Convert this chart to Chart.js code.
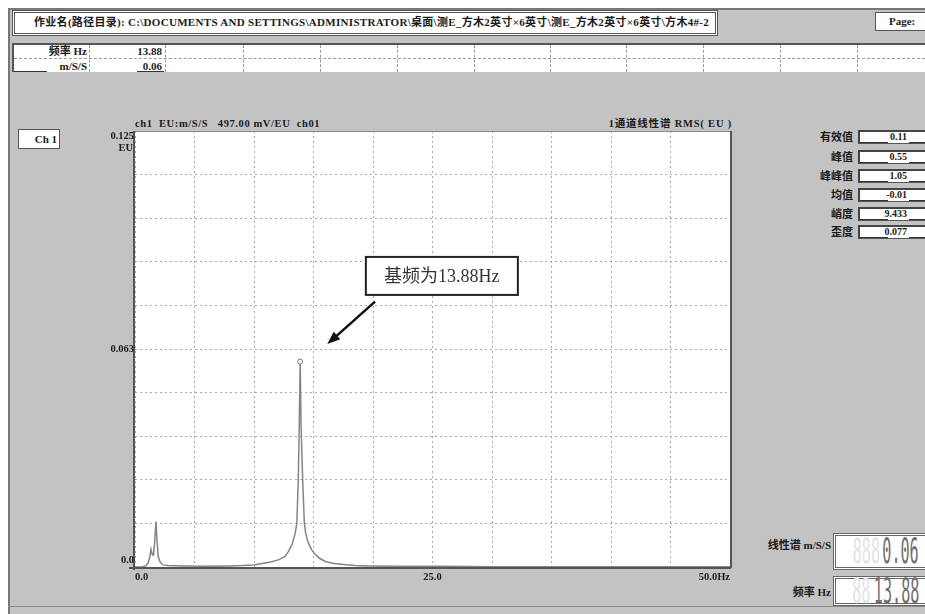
<!DOCTYPE html>
<html>
<head>
<meta charset="utf-8">
<script src="https://cdn.jsdelivr.net/npm/chart.js@4.4.1/dist/chart.umd.min.js"></script>
<style>
  html, body { margin: 0; padding: 0; background: #fff; }
  #page { position: relative; width: 925px; height: 614px; overflow: hidden; background: #fff; }
  .abs { position: absolute; box-sizing: border-box; }
  .panel { left: 8px; top: 8px; width: 930px; height: 620px; background: #c3c3c3;
    border-left: 2px solid #777; border-top: 2px solid #777; }
  .t { position: absolute; font-family: "Liberation Serif", "Noto Sans CJK SC", serif; font-weight: bold;
    font-size: 10px; line-height: 12px; color: #1b1b1b; white-space: nowrap; }
  .box { background: #fff; border: 1px solid #555; }
  .dbl { background: #fff; border: 3px double #555; }
  .vdash { width: 0; border-left: 1px dashed #9a9a9a; }
  .hdash { height: 0; border-top: 1px dashed #9a9a9a; }
  .seg { position: absolute; font-family: "DejaVu Sans Mono", monospace; font-weight: 200; font-size: 36px;
    line-height: 32px; white-space: nowrap; transform-origin: right center; transform: scaleX(0.42); }
  #wrap { position: absolute; left: 0; top: 0; width: 925px; height: 614px; }
</style>
</head>
<body>
<div id="page">
  <div class="abs panel"></div>
  <div id="chrome"></div>
  <div id="wrap"><canvas id="spec"></canvas></div>
</div>
<script>
// --- data ---
const jobTitle = '作业名(路径目录): C:\\DOCUMENTS AND SETTINGS\\ADMINISTRATOR\\桌面\\测E_方木2英寸×6英寸\\测E_方木2英寸×6英寸\\方木4#-2';
const headerLabels = ['频率 Hz', 'm/S/S'];
const headerValues = ['13.88', '0.06'];
const statLabels = ['有效值', '峰值', '峰峰值', '均值', '峭度', '歪度'];
const statValues = ['0.11', '0.55', '1.05', '-0.01', '9.433', '0.077'];
const readoutLabels = ['线性谱 m/S/S', '频率 Hz'];
const readoutValues = ['0.06', '13.88'];
const readoutGhosts = ['888', '88'];

const freqHz = [0, 0.6, 0.9, 1.1, 1.25, 1.34, 1.45, 1.55, 1.65, 1.76, 1.85, 1.95, 2.1, 2.35, 2.8, 4, 6, 8, 9, 10,
  10.8, 11.5, 12.1, 12.6, 12.9, 13.2, 13.45, 13.6, 13.72, 13.8, 13.88, 13.96, 14.09, 14.23, 14.35, 14.55, 14.85,
  15.1, 15.5, 16.0, 16.6, 17.5, 18.5, 19.5, 22, 26, 30, 35, 40, 45, 50];
const amplitude = [0, 0, 0.0003, 0.0012, 0.0030, 0.0051, 0.0036, 0.0034, 0.0070, 0.0130, 0.0075, 0.0030, 0.0015,
  0.0006, 0.0004, 0.0003, 0.0002, 0.0003, 0.0004, 0.0006, 0.0011, 0.0015, 0.0021, 0.0030, 0.0045, 0.0065, 0.0095,
  0.0126, 0.0250, 0.0400, 0.0589, 0.0400, 0.0250, 0.0126, 0.0095, 0.0070, 0.0049, 0.0038, 0.0025, 0.0016, 0.0011,
  0.0007, 0.0004, 0.0003, 0.0002, 0.0002, 0.0001, 0.0001, 0.0001, 0.0001, 0.0001];
const peakIndex = 30;

const yTickValues = [0, 0.0625, 0.125];
const yTickLabels = ['0.0', '0.063', '0.125'];
const xTickValues = [0, 25, 50];
const xTickLabels = ['0.0', '25.0', '50.0Hz'];
const plotTitleLeft = 'ch1  EU:m/S/S   497.00 mV/EU  ch01';
const plotTitleRight = '1通道线性谱 RMS( EU )';
const yUnit = 'EU';
const channelName = 'Ch 1';
const pageLabel = 'Page:';
const noteText = '基频为13.88Hz';

// --- surrounding panels (plain html) ---
const chrome = document.getElementById('chrome');
const el = (cls, css, text) => {
  const d = document.createElement('div');
  d.className = cls;
  Object.assign(d.style, css);
  if (text !== undefined) d.textContent = text;
  chrome.appendChild(d);
  return d;
};

el('abs dbl', { left: '12px', top: '10px', width: '706px', height: '26px' });
el('t', { left: '34px', top: '16px', fontSize: '11px', letterSpacing: '0.3px' }, jobTitle);
el('abs box', { left: '875px', top: '12px', width: '60px', height: '19px' });
el('t', { left: '889px', top: '15px', fontSize: '11px' }, pageLabel);

// header table
el('abs', { left: '12px', top: '43px', width: '920px', height: '29px', background: '#fff',
  borderLeft: '2px solid #555', borderTop: '2px solid #555' });
el('abs hdash', { left: '14px', top: '58px', width: '911px' });
[89, 165, 243, 320, 397, 474, 550, 626, 703, 780, 857].forEach((x) => {
  el('abs vdash', { left: x + 'px', top: '45px', height: '27px' });
});
headerLabels.forEach((lab, i) => {
  const top = 45 + i * 15;
  el('t', { right: (925 - 87) + 'px', top: top + 'px', fontSize: '11px' }, lab);
  el('t', { right: (925 - 162) + 'px', top: top + 'px', fontSize: '11px' }, headerValues[i]);
});
el('abs', { left: '14px', top: '71px', width: '33px', height: '0', borderTop: '1px solid #333' });
el('abs', { left: '137px', top: '71px', width: '27px', height: '0', borderTop: '1px solid #333' });

// channel box and plot titles
el('abs box', { left: '18px', top: '129px', width: '42px', height: '20px' });
el('t', { right: (925 - 57) + 'px', top: '133px', fontSize: '11px' }, channelName);
el('t', { left: '135px', top: '118px', fontSize: '10.5px', letterSpacing: '0.6px' }, plotTitleLeft.replace(/ /g, '\u00a0'));
el('t', { right: (925 - 732) + 'px', top: '118px', fontSize: '10.5px', letterSpacing: '0.8px' }, plotTitleRight);

// stats column
const statTops = [130, 150, 169, 188, 207, 225];
statLabels.forEach((lab, i) => {
  const top = statTops[i];
  el('t', { right: (925 - 853) + 'px', top: (top + 1) + 'px', fontSize: '11px' }, lab);
  el('abs box', { left: '858px', top: top + 'px', width: '80px', height: '14px',
    borderLeft: '2px solid #444', borderTop: '2px solid #444' });
  el('abs', { left: '860px', top: (top + 12) + 'px', width: '28px', height: '0', borderTop: '1px solid #333' });
  el('t', { right: (925 - 907) + 'px', top: (top + 1) + 'px' }, statValues[i]);
  el('abs', { left: '909px', top: (top + 12) + 'px', width: '16px', height: '0', borderTop: '1px solid #333' });
});

// digital readouts (ghost segments sit left of the lit digits)
const readTops = [533, 576];
const SEG_W = 9.1;
readoutLabels.forEach((lab, i) => {
  const top = readTops[i];
  el('t', { right: (925 - 831) + 'px', top: (top + (i ? 10 : 6)) + 'px', fontSize: '11px' }, lab);
  el('abs dbl', { left: '833px', top: top + 'px', width: '100px', height: i ? '30px' : '37px',
    borderColor: '#666' });
  const ghostRight = 6 + readoutValues[i].length * SEG_W + 3;
  el('seg', { right: ghostRight + 'px', top: (top + (i ? -1 : 2)) + 'px', color: '#e4e4e4' }, readoutGhosts[i]);
  el('seg', { right: '6px', top: (top + (i ? -1 : 2)) + 'px', color: '#707070' }, readoutValues[i]);
});
el('abs', { left: '8px', top: '606px', width: '920px', height: '0', borderTop: '1px solid #8a8a8a' });

// --- chart ---
const PLOT = { left: 135, top: 131, right: 730, bottom: 567 };
const LABEL_FONT = 'bold 10.5px "Liberation Serif", "Noto Sans CJK SC", serif';

const framePlugin = {
  id: 'frame',
  beforeDraw(chart) {
    const { ctx, chartArea: a } = chart;
    ctx.save();
    ctx.fillStyle = '#fff';
    ctx.fillRect(a.left, a.top, a.right - a.left, a.bottom - a.top);
    ctx.restore();
  },
  afterDraw(chart) {
    const { ctx, chartArea: a, scales: { x, y } } = chart;
    ctx.save();
    // plot frame
    ctx.strokeStyle = '#8a8a8a';
    ctx.lineWidth = 1;
    ctx.beginPath();
    ctx.moveTo(a.left, a.top + 0.5);
    ctx.lineTo(a.right, a.top + 0.5);
    ctx.stroke();
    ctx.strokeStyle = '#555';
    ctx.lineWidth = 2;
    ctx.beginPath();
    ctx.moveTo(a.left - 1, a.top);
    ctx.lineTo(a.left - 1, a.bottom + 3);
    ctx.moveTo(a.left - 6, a.bottom + 1);
    ctx.lineTo(a.right + 1, a.bottom + 1);
    ctx.moveTo(a.right + 1, a.top);
    ctx.lineTo(a.right + 1, a.bottom + 1);
    ctx.stroke();

    // tick labels
    ctx.fillStyle = '#1b1b1b';
    ctx.font = LABEL_FONT;
    yTickValues.forEach((v, i) => {
      const py = y.getPixelForValue(v);
      ctx.textAlign = 'right';
      ctx.textBaseline = i === 0 ? 'bottom' : (i === yTickValues.length - 1 ? 'top' : 'middle');
      ctx.fillText(yTickLabels[i], a.left - 1, i === 0 ? py - 1 : py);
    });
    ctx.textBaseline = 'top';
    ctx.fillText(yUnit, a.left - 2, a.top + 12);
    xTickValues.forEach((v, i) => {
      const px = x.getPixelForValue(v);
      ctx.textAlign = i === 0 ? 'left' : (i === xTickValues.length - 1 ? 'right' : 'center');
      ctx.textBaseline = 'top';
      ctx.fillText(xTickLabels[i], px, a.bottom + 5);
    });

    // annotation box + arrow
    const bx = x.getPixelForValue(19.4), by = y.getPixelForValue(0.0889);
    const bw = 152, bh = 38;
    ctx.fillStyle = '#fff';
    ctx.fillRect(bx, by, bw, bh);
    ctx.strokeStyle = '#222';
    ctx.lineWidth = 2;
    ctx.strokeRect(bx, by, bw, bh);
    ctx.fillStyle = '#333';
    ctx.font = '18px "Liberation Serif", "Noto Sans CJK SC", serif';
    ctx.textAlign = 'center';
    ctx.textBaseline = 'middle';
    ctx.fillText(noteText, bx + bw / 2, by + bh / 2 + 1);

    const x0 = x.getPixelForValue(20.17), y0 = y.getPixelForValue(0.0761);
    const x1 = x.getPixelForValue(16.16), y1 = y.getPixelForValue(0.0639);
    const ang = Math.atan2(y1 - y0, x1 - x0);
    const head = 13, half = 5;
    ctx.strokeStyle = '#111';
    ctx.lineWidth = 2.5;
    ctx.beginPath();
    ctx.moveTo(x0, y0);
    ctx.lineTo(x1 - Math.cos(ang) * head * 0.7, y1 - Math.sin(ang) * head * 0.7);
    ctx.stroke();
    ctx.fillStyle = '#111';
    ctx.beginPath();
    ctx.moveTo(x1, y1);
    ctx.lineTo(x1 - Math.cos(ang) * head - Math.sin(ang) * half, y1 - Math.sin(ang) * head + Math.cos(ang) * half);
    ctx.lineTo(x1 - Math.cos(ang) * head + Math.sin(ang) * half, y1 - Math.sin(ang) * head - Math.cos(ang) * half);
    ctx.closePath();
    ctx.fill();
    ctx.restore();
  },
};

const points = freqHz.map((f, i) => ({ x: f, y: amplitude[i] }));

new Chart(document.getElementById('spec').getContext('2d'), {
  type: 'line',
  data: {
    datasets: [{
      data: points,
      borderColor: '#858585',
      borderWidth: 1.5,
      tension: 0,
      pointRadius: (ctx) => (ctx.dataIndex === peakIndex ? 2.5 : 0),
      pointBackgroundColor: '#fff',
      pointBorderColor: '#777',
      pointBorderWidth: 1,
    }],
  },
  options: {
    responsive: true,
    maintainAspectRatio: false,
    animation: false,
    events: [],
    layout: {
      padding: { left: PLOT.left, top: PLOT.top, right: 925 - PLOT.right, bottom: 614 - PLOT.bottom },
    },
    scales: {
      x: {
        type: 'linear',
        min: 0,
        max: 50,
        ticks: { display: false, stepSize: 5 },
        grid: { color: '#a8a8a8', drawTicks: false, lineWidth: 1 },
        border: { display: false, dash: [2, 3] },
      },
      y: {
        min: 0,
        max: 0.125,
        ticks: { display: false, stepSize: 0.0125 },
        grid: { color: '#a8a8a8', drawTicks: false, lineWidth: 1 },
        border: { display: false, dash: [2, 3] },
      },
    },
    plugins: {
      legend: { display: false },
      tooltip: { enabled: false },
    },
  },
  plugins: [framePlugin],
});
</script>
</body>
</html>
